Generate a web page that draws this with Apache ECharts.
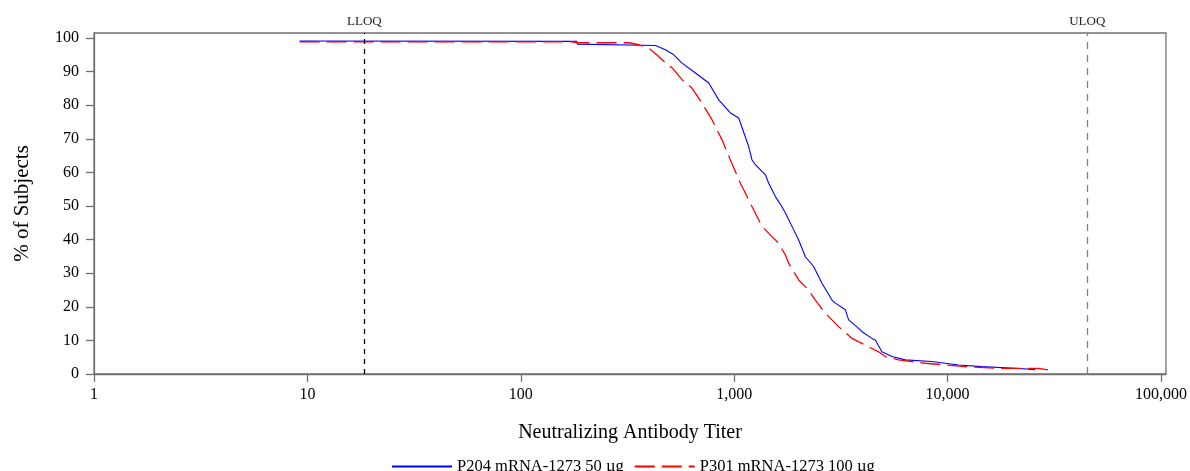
<!DOCTYPE html>
<html>
<head>
<meta charset="utf-8">
<script src="https://cdn.jsdelivr.net/npm/echarts@6/dist/echarts.min.js"></script>
<style>
  html, body { margin: 0; padding: 0; background: #fff; }
  #chart { width: 1190px; height: 471px; }
</style>
</head>
<body>
<div id="chart"></div>
<script>
// ---- data ----
const seriesNames = ['P204 mRNA-1273 50 \u00b5g', 'P301 mRNA-1273 100 \u00b5g'];
const p204Titer = [9.2, 183, 184, 428, 476, 521, 568, 658, 760, 846, 960, 1050, 1169, 1212, 1257, 1400, 1451, 1560, 1674, 1738, 1900, 2005, 2155, 2356, 2578, 2872, 2979, 3319, 3439, 3830, 3968, 4420, 4585, 4921, 5483, 6340, 8440, 11270, 14480, 20750, 25760];
const p204Pct = [99.1, 99.0, 98.2, 97.8, 96.5, 95.0, 92.6, 89.6, 86.6, 81.6, 77.7, 76.2, 67.7, 63.7, 62.3, 59.3, 56.8, 52.8, 49.8, 47.9, 42.9, 39.9, 34.9, 32.0, 27.0, 22.0, 21.1, 19.1, 16.1, 13.6, 12.6, 10.6, 10.1, 6.6, 5.2, 4.2, 3.7, 2.7, 2.2, 1.7, 1.3];
const p301Titer = [9.2, 173, 187, 321, 357, 398, 443, 476, 512, 570, 634, 707, 787, 877, 960, 1069, 1129, 1191, 1302, 1350, 1503, 1616, 1738, 1800, 2005, 2233, 2314, 2400, 2673, 3086, 3564, 3696, 4115, 4750, 5105, 5890, 7855, 12100, 17330, 26680, 30810];
const p301Pct = [98.9, 98.9, 98.6, 98.6, 98.0, 97.0, 94.5, 92.6, 91.1, 87.6, 85.1, 80.6, 75.7, 69.7, 63.7, 56.8, 53.8, 50.8, 45.9, 43.9, 40.9, 38.9, 35.4, 33.0, 28.0, 25.0, 23.5, 22.0, 18.1, 14.1, 10.6, 10.1, 8.6, 6.6, 5.2, 4.2, 3.2, 2.2, 1.7, 1.7, 1.0];
const xTicks = [1, 10, 100, 1000, 10000, 100000];
const yTicks = [0, 10, 20, 30, 40, 50, 60, 70, 80, 90, 100];
const LLOQ = 18.5;
const ULOQ = 45118;
const xTitle = 'Neutralizing Antibody Titer';
const yTitle = '% of Subjects';

// ---- chart ----
const FONT = "'Liberation Serif', 'DejaVu Serif', serif";
const AXIS_COLOR = '#707070';
const zip = (a, b) => a.map((v, i) => [v, b[i]]);

const chart = echarts.init(document.getElementById('chart'), null, { renderer: 'canvas' });
chart.setOption({
  animation: false,
  backgroundColor: '#ffffff',
  textStyle: { fontFamily: FONT, color: '#000' },
  grid: {
    left: 94, right: 24, top: 33, bottom: 97,
    show: true, borderColor: AXIS_COLOR, borderWidth: 1.3,
    containLabel: false
  },
  legend: {
    top: 453,
    left: 386,
    itemWidth: 60,
    itemHeight: 12,
    itemGap: 10,
    itemStyle: { opacity: 0 },
    textStyle: { fontFamily: FONT, fontSize: 16.5, color: '#000' },
    data: seriesNames
  },
  xAxis: {
    type: 'log',
    logBase: 10,
    min: 1,
    max: 105500,
    name: xTitle,
    nameLocation: 'middle',
    nameGap: 49,
    nameTextStyle: { fontFamily: FONT, fontSize: 20, color: '#000' },
    axisLine: { show: true, lineStyle: { color: AXIS_COLOR, width: 1.3 } },
    axisTick: { show: true, length: 8, lineStyle: { color: AXIS_COLOR, width: 1.3 }, customValues: xTicks },
    axisLabel: {
      customValues: xTicks,
      margin: 13,
      fontFamily: FONT, fontSize: 16, color: '#000',
      formatter: v => Number(v).toLocaleString('en-US')
    },
    splitLine: { show: false },
    minorTick: { show: false }
  },
  yAxis: {
    type: 'value',
    min: 0,
    max: 101.5,
    interval: 10,
    name: yTitle,
    nameLocation: 'middle',
    nameGap: 61,
    nameTextStyle: { fontFamily: FONT, fontSize: 21, color: '#000' },
    axisLine: { show: true, lineStyle: { color: AXIS_COLOR, width: 1.3 } },
    axisTick: { show: true, length: 8, lineStyle: { color: AXIS_COLOR, width: 1.3 }, customValues: yTicks },
    axisLabel: { customValues: yTicks, margin: 15, fontFamily: FONT, fontSize: 16, color: '#000' },
    splitLine: { show: false }
  },
  series: [
    {
      name: seriesNames[0],
      type: 'line',
      data: zip(p204Titer, p204Pct),
      showSymbol: false,
      symbol: 'none',
      lineStyle: { color: '#0000ff', width: 1.1 },
      itemStyle: { color: '#0000ff' },
      z: 2,
      markLine: {
        silent: true,
        symbol: 'none',
        animation: false,
        label: {
          show: true, position: 'end', distance: 5,
          formatter: p => p.name,
          fontFamily: FONT, fontSize: 13, color: '#222'
        },
        data: [
          { name: 'LLOQ', xAxis: LLOQ, lineStyle: { color: '#000', width: 1.3, type: [5, 5] } },
          { name: 'ULOQ', xAxis: ULOQ, lineStyle: { color: '#808080', width: 1.3, type: [7, 6] } }
        ]
      }
    },
    {
      name: seriesNames[1],
      type: 'line',
      data: zip(p301Titer, p301Pct),
      showSymbol: false,
      symbol: 'none',
      lineStyle: { color: '#ff0000', width: 1.3, type: [20, 7] },
      itemStyle: { color: '#ff0000' },
      z: 3
    }
  ]
});
</script>
</body>
</html>
